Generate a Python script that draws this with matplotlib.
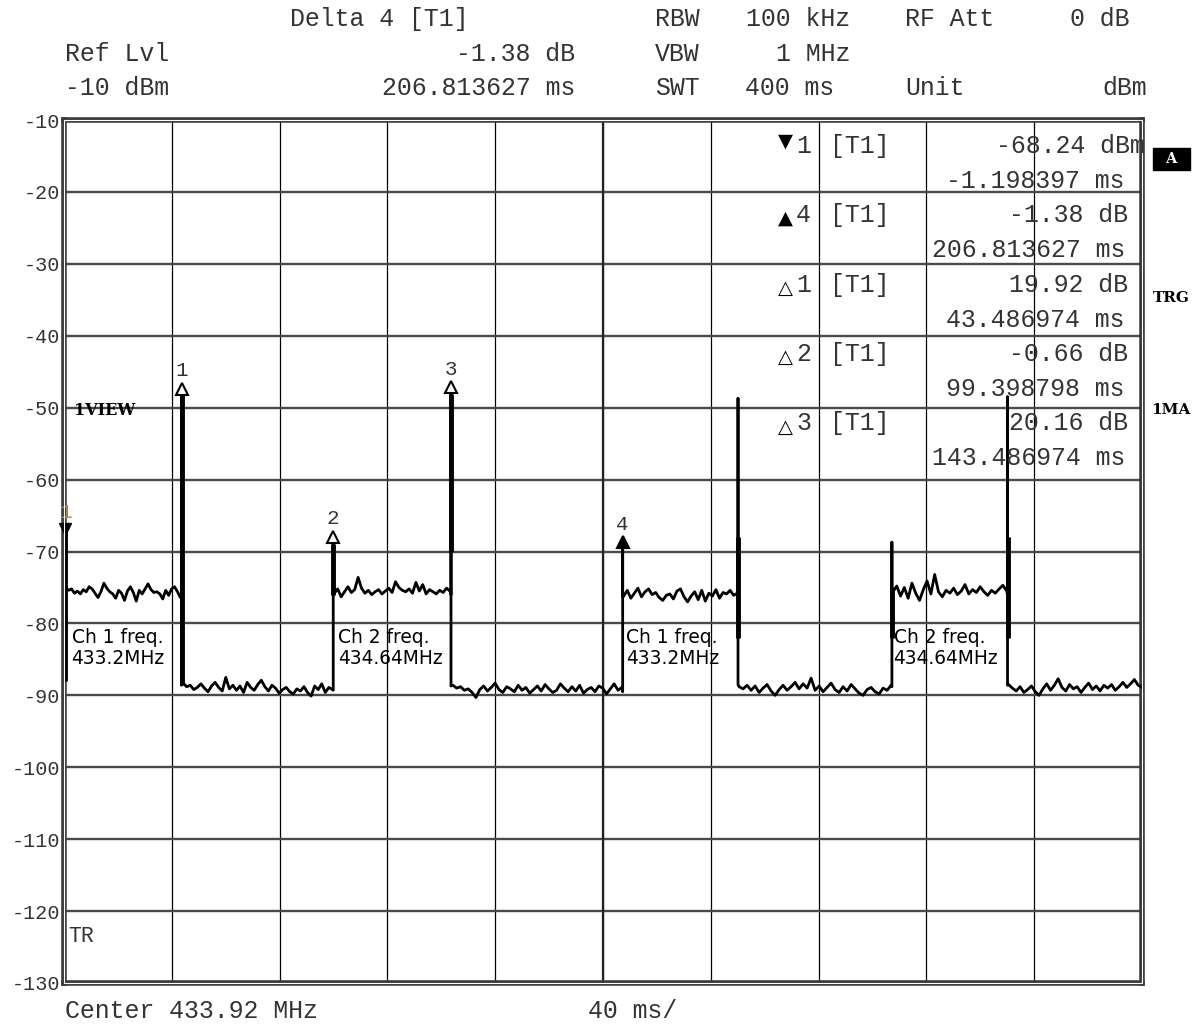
import matplotlib
matplotlib.use("Agg")
import matplotlib.pyplot as plt
import numpy as np

W, H = 1200, 1024
mono = "Liberation Mono"
txt_col = "#333333"

# ---- trace data (time in ms, level in dBm) ----
seg_start = [0.6, 44.2, 100.3, 144.3, 207.7, 250.5, 307.6, 350.5]
seg_end = [43.2, 99.6, 143.2, 207.0, 249.8, 306.9, 349.8, 400.0]

segA = [-75.0, -75.4, -75.2, -75.8, -75.5, -75.9, -75.3, -75.6, -74.9, -75.2, -75.8, -76.4, -75.6, -74.4,
        -75.1, -75.6, -75.9, -76.5, -75.4, -75.8, -76.8, -75.5, -74.9, -75.7, -76.9, -75.4, -75.9, -75.2,
        -74.5, -75.3, -75.7, -75.6, -75.9, -76.6, -75.4, -76.1, -75.2, -74.9, -75.6, -76.4]
segB = [-88.3, -88.8, -88.6, -89.2, -88.9, -88.4, -89.0, -89.5, -88.7, -88.2, -88.9, -89.4, -87.5, -89.1,
        -88.6, -89.3, -88.7, -89.6, -88.2, -88.9, -89.3, -88.5, -87.9, -88.8, -89.4, -88.6, -89.0, -89.7,
        -89.2, -88.9, -89.5, -89.8, -89.1, -89.4, -88.8, -89.6, -90.1, -88.7, -89.2, -88.4, -89.6, -88.9, -89.2]
segC = [-75.8, -75.2, -76.3, -75.6, -74.9, -75.7, -75.3, -73.6, -75.1, -75.8, -75.4, -76.0, -75.6, -75.3,
        -75.9, -75.5, -75.1, -75.7, -74.2, -75.0, -75.4, -75.6, -75.2, -75.8, -74.3, -75.5, -74.6, -75.9,
        -75.3, -75.6, -75.9, -75.4, -75.7, -75.1, -75.5]
segD = [-88.6, -89.0, -88.8, -89.3, -89.1, -89.6, -90.3, -89.2, -88.7, -89.4, -88.9, -88.3, -89.2, -89.6,
        -88.8, -89.1, -89.5, -88.6, -89.3, -88.9, -89.7, -89.2, -88.7, -89.4, -88.5, -89.1, -89.6, -89.3,
        -88.4, -89.0, -89.5, -88.8, -89.4, -88.6, -89.7, -89.2, -88.9, -89.5, -88.7, -89.0, -89.8, -89.1,
        -88.4, -89.3, -88.9]
segE = [-76.2, -75.4, -76.5, -75.8, -75.1, -76.3, -75.6, -75.2, -76.0, -75.7, -76.4, -76.8, -76.1, -75.9,
        -76.6, -75.5, -75.2, -76.3, -77.0, -76.2, -75.6, -76.7, -75.4, -76.9, -75.8, -76.2, -75.3, -76.5,
        -75.7, -75.9, -75.4, -76.1, -75.8]
segF = [-88.8, -89.1, -88.6, -89.3, -88.7, -89.6, -89.0, -88.5, -89.4, -90.0, -89.2, -88.6, -89.3, -88.8,
        -88.2, -89.1, -88.4, -89.0, -87.6, -89.3, -88.7, -89.5, -88.9, -88.3, -89.2, -89.6, -88.8, -89.4,
        -88.5, -89.1, -89.7, -90.0, -89.2, -88.9, -89.5, -89.8, -89.0, -89.3, -88.6]
segG = [-75.6, -74.8, -76.2, -75.0, -76.5, -74.4, -75.8, -76.8, -75.3, -74.1, -75.9, -73.2, -75.6, -76.3,
        -75.4, -75.8, -75.1, -76.0, -75.5, -74.6, -75.9, -75.3, -75.7, -74.9, -75.6, -76.1, -75.4, -75.8,
        -75.2, -74.7, -75.5]
segH = [-88.5, -89.0, -89.4, -88.8, -89.6, -89.2, -88.7, -89.5, -90.0, -89.1, -88.4, -89.3, -88.6, -87.7,
        -88.9, -89.4, -88.5, -89.1, -88.8, -89.6, -88.9, -88.3, -89.2, -88.7, -89.4, -88.6, -89.0, -88.5,
        -89.3, -88.8, -88.2, -88.9, -88.4, -87.8, -88.6, -88.9]
segments = [segA, segB, segC, segD, segE, segF, segG, segH]

# vertical jumps / spikes between segments
edge_t = [0.2, 43.6, 99.9, 143.6, 207.3, 250.1, 307.2, 350.1]
edge_db = [[-88.0, -66.5, -68.2], [-76.5, -48.3, -84.0, -88.6], [-89.3, -68.9, -75.6],
           [-76.0, -48.1, -70.0, -48.5, -88.7], [-89.5, -69.6, -76.3],
           [-76.0, -48.7, -68.0, -82.0, -88.5], [-88.8, -68.7, -82.0, -75.4],
           [-76.0, -48.5, -68.0, -82.0, -88.6]]
# thick parts of the spikes
thick_t = [0.2, 43.6, 99.9, 143.6, 250.1, 307.2, 350.1]
thick_lo = [-88.0, -88.6, -76.0, -70.0, -82.0, -82.0, -82.0]
thick_hi = [-66.5, -48.3, -69.0, -48.1, -68.0, -75.0, -68.0]

# markers
mk_t = [0.5, 43.6, 99.9, 143.6, 207.3]
mk_db = [-68.24, -48.32, -68.90, -48.08, -69.62]
mk_lbl = ["1", "1", "2", "3", "4"]

y_ticks = list(range(-10, -131, -10))

# marker table
tbl_sym = ["▼", "▲", "△", "△", "△"]
tbl_num = ["1", "4", "1", "2", "3"]
tbl_val = ["-68.24 dBm", "-1.38 dB", "19.92 dB", "-0.66 dB", "20.16 dB"]
tbl_time = ["-1.198397 ms", "206.813627 ms", "43.486974 ms", "99.398798 ms", "143.486974 ms"]

ch_notes = ["Ch 1 freq.\n433.2MHz", "Ch 2 freq.\n434.64MHz", "Ch 1 freq.\n433.2MHz", "Ch 2 freq.\n434.64MHz"]
ch_t = [2.8, 101.8, 208.6, 307.8]

# ---- build trace ----
tr_t, tr_db = [], []
for i in range(len(segments)):
    for v in edge_db[i]:
        tr_t.append(edge_t[i])
        tr_db.append(v)
    ts = np.linspace(seg_start[i], seg_end[i], len(segments[i]))
    tr_t.extend(ts)
    tr_db.extend(segments[i])

fig = plt.figure(figsize=(12, 10.24), dpi=100)
ax = fig.add_axes([64 / W, 1 - 983 / H, (1142 - 64) / W, (983 - 120) / H])
ax.set_xlim(0, 400)
ax.set_ylim(-130, -10)
ax.set_xticks(np.arange(0, 401, 40))
ax.set_xticklabels([])
ax.set_yticks(y_ticks)
ax.set_yticklabels([str(v) for v in y_ticks], fontfamily=mono, fontsize=14.5, color=txt_col)
ax.tick_params(length=0, pad=3)
ax.grid(axis="y", color="#4a4a4a", lw=1.7)
ax.grid(axis="x", color="black", lw=0.9)
ax.axvline(200, color="#222222", lw=1.6)
for s in ax.spines.values():
    s.set_linewidth(4)
    s.set_color("#3a3a3a")
fr = plt.Rectangle((0, 0), 1, 1, transform=ax.transAxes, fill=False, ec="white", lw=0.8, zorder=6, clip_on=False)
ax.add_patch(fr)

ax.plot(tr_t, tr_db, color="black", lw=2.0, zorder=4)
ax.vlines(thick_t, thick_lo, thick_hi, color="black", lw=3.5, zorder=4)

# marker symbols
ax.plot(mk_t[0], mk_db[0] + 1.3, marker="v", ms=9, color="black", zorder=5, clip_on=False)
ax.text(mk_t[0], mk_db[0] + 2.4, mk_lbl[0], color="#c87a2a", fontfamily=mono, fontsize=15, ha="center", va="bottom")
for i in range(1, 5):
    face = "black" if i == 4 else "white"
    ax.plot(mk_t[i], mk_db[i] + 0.9, marker="^", ms=9, mfc=face, mec="black", mew=1.5, zorder=5)
    ax.text(mk_t[i], mk_db[i] + 2.1, mk_lbl[i], color=txt_col, fontfamily=mono, fontsize=15, ha="center", va="bottom")

for t, s in zip(ch_t, ch_notes):
    ax.text(t, -80.6, s, fontfamily="DejaVu Sans", fontsize=13.4, color="black", va="top", ha="left",
            linespacing=1.12, zorder=7)

ax.text(3.8, -50.4, "1VIEW", fontfamily="DejaVu Serif", fontweight="bold", fontsize=11.5, color="black", va="center")
ax.text(1.5, -123.6, "TR", fontfamily=mono, fontsize=15.5, color=txt_col, va="center")


def ftext(x, y, s, ha="left", **kw):
    kw.setdefault("fontfamily", mono)
    kw.setdefault("fontsize", 17.9)
    kw.setdefault("color", txt_col)
    fig.text(x / W, 1 - y / H, s, ha=ha, va="center", **kw)


# header
ftext(290, 19, "Delta 4 [T1]")
ftext(655, 19, "RBW")
ftext(850, 19, "100 kHz", ha="right")
ftext(905, 19, "RF Att")
ftext(1130, 19, "0 dB", ha="right")
ftext(65, 54, "Ref Lvl")
ftext(575, 54, "-1.38 dB", ha="right")
ftext(655, 54, "VBW")
ftext(850, 54, "1 MHz", ha="right")
ftext(65, 88, "-10 dBm")
ftext(575, 88, "206.813627 ms", ha="right")
ftext(655, 88, "SWT")
ftext(745, 88, "400 ms")
ftext(905, 88, "Unit")
ftext(1147, 88, "dBm", ha="right")

# marker table
sym_dy = [-5, 3, 4, 4, 4]
for i in range(5):
    y0 = 146 + 69.3 * i
    ftext(785, y0 + sym_dy[i], tbl_sym[i], ha="center", fontfamily="DejaVu Sans", fontsize=14,
          color="black", fontweight="bold")
    ftext(796, y0, tbl_num[i])
    ftext(830, y0, "[T1]")
    right = 1145 if tbl_val[i].endswith("dBm") else 1128
    ftext(right, y0, tbl_val[i], ha="right")
    ftext(1125, y0 + 35, tbl_time[i], ha="right")

# right side labels
fig.patches.append(plt.Rectangle((1153 / W, 1 - 170 / H), 37 / W, 22 / H, transform=fig.transFigure,
                                 color="black", zorder=3))
ftext(1171, 159, "A", ha="center", fontfamily="DejaVu Serif", fontweight="bold", fontsize=10.5, color="white")
ftext(1171, 298, "TRG", ha="center", fontfamily="DejaVu Serif", fontweight="bold", fontsize=11, color="black")
ftext(1171, 410, "1MA", ha="center", fontfamily="DejaVu Serif", fontweight="bold", fontsize=11, color="black")

# footer
ftext(65, 1011, "Center 433.92 MHz")
ftext(588, 1011, "40 ms/")

fig.savefig("out.png", dpi=100)
